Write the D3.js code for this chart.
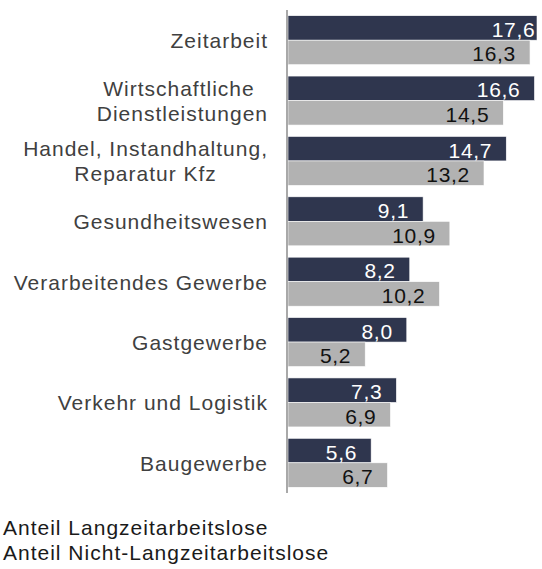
<!DOCTYPE html>
<html>
<head>
<meta charset="utf-8">
<script src="https://cdn.jsdelivr.net/npm/d3@7"></script>
<style>
  body { margin: 0; background: #fff; }
</style>
</head>
<body>
<svg id="chart" width="542" height="569" font-family="'Liberation Sans', Arial, sans-serif"></svg>
<script>
const categories = [
  ['Zeitarbeit'],
  ['Wirtschaftliche\u00A0', 'Dienstleistungen'],
  ['Handel, Instandhaltung,', 'Reparatur Kfz'],
  ['Gesundheitswesen'],
  ['Verarbeitendes Gewerbe'],
  ['Gastgewerbe'],
  ['Verkehr und Logistik'],
  ['Baugewerbe']
];
const seriesNames = ['Anteil Langzeitarbeitslose', 'Anteil Nicht-Langzeitarbeitslose'];
const langzeit = [17.6, 16.6, 14.7, 9.1, 8.2, 8.0, 7.3, 5.6];
const nichtLangzeit = [16.3, 14.5, 13.2, 10.9, 10.2, 5.2, 6.9, 6.7];

const colors = ['#2f364e', '#b2b2b2'];
const labelColors = ['#ffffff', '#111111'];

const width = 542, height = 569;
const margin = { top: 10, right: 5, bottom: 76, left: 288 };
const fontSize = 21;

const svg = d3.select('#chart');

const keys = categories.map((c) => c.join(' '));
const data = keys.map((k, i) => ({ key: k, lines: categories[i], values: [langzeit[i], nichtLangzeit[i]] }));

const y = d3.scaleBand()
  .domain(keys)
  .range([margin.top, height - margin.bottom]);

const yInner = d3.scaleBand()
  .domain([0, 1])
  .range([0, y.bandwidth()])
  .paddingOuter(0.232);

// bars past the plot edge get cut off, like in the original
const x = d3.scaleLinear()
  .domain([0, 16.77])
  .range([margin.left, width - margin.right])
  .clamp(true);
const xFree = x.copy().clamp(false);

const groups = svg.append('g')
  .selectAll('g')
  .data(data)
  .join('g')
  .attr('transform', (d) => `translate(0,${y(d.key)})`);

groups.selectAll('rect')
  .data((d) => d.values.map((v, j) => ({ v, j })))
  .join('rect')
  .attr('x', x(0))
  .attr('y', (d) => yInner(d.j))
  .attr('width', (d) => x(d.v) - x(0))
  .attr('height', yInner.bandwidth())
  .attr('fill', (d) => colors[d.j])
  .attr('stroke', '#fff')
  .attr('stroke-width', 0.6);

groups.selectAll('text.value')
  .data((d) => d.values.map((v, j) => ({ v, j })))
  .join('text')
  .attr('class', 'value')
  .attr('x', (d) => xFree(d.v) - 14)
  .attr('y', (d) => yInner(d.j) + yInner.bandwidth() / 2 + 9)
  .attr('text-anchor', 'end')
  .attr('font-size', fontSize)
  .attr('letter-spacing', 0.7)
  .attr('fill', (d) => labelColors[d.j])
  .text((d) => d3.format('.1f')(d.v).replace('.', ','));

// category labels: multi-line blocks centred, block right edge at 268
const labelRight = 268;
const lineH = 25;
groups.each(function (d) {
  const g = d3.select(this).append('g');
  const n = d.lines.length;
  const texts = g.selectAll('text')
    .data(d.lines)
    .join('text')
    .attr('x', 0)
    .attr('y', (t, i) => y.bandwidth() / 2 + (i - (n - 1) / 2) * lineH + 8)
    .attr('text-anchor', 'middle')
    .attr('font-size', fontSize)
    .attr('letter-spacing', 1)
    .attr('fill', '#404040')
    .style('white-space', 'pre')
    .text((t) => t);
  const maxW = d3.max(texts.nodes(), (nd) => nd.getComputedTextLength());
  g.attr('transform', `translate(${labelRight - maxW / 2},0)`);
});

// vertical axis line
svg.append('line')
  .attr('x1', x(0) - 1)
  .attr('x2', x(0) - 1)
  .attr('y1', margin.top)
  .attr('y2', height - margin.bottom)
  .attr('stroke', '#8c8c8c')
  .attr('stroke-width', 1.5);

// legend (text only, markers sit outside the picture)
svg.append('g')
  .selectAll('text')
  .data(seriesNames)
  .join('text')
  .attr('x', 3)
  .attr('y', (d, i) => 535 + i * 25)
  .attr('font-size', fontSize)
  .attr('letter-spacing', 1)
  .attr('fill', '#1a1a1a')
  .text((d) => d);
</script>
</body>
</html>
